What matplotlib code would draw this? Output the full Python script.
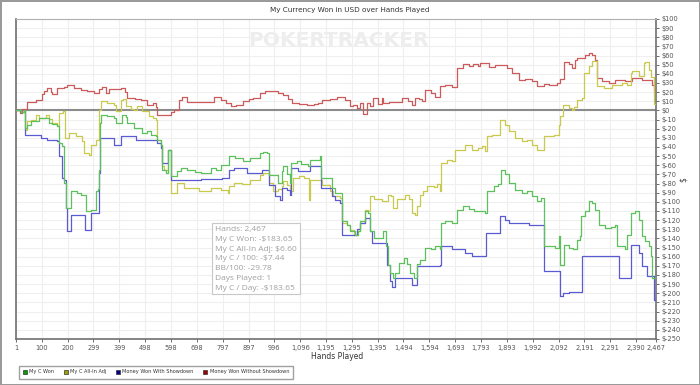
import matplotlib.pyplot as plt
from matplotlib.patches import Patch
from matplotlib.ticker import FuncFormatter

# breakpoints (hand number, value in USD)
red_hands = [1, 15, 25, 45, 77, 100, 109, 122, 135, 141, 160, 186, 199, 225, 250, 275, 302, 320, 334, 347, 360,
             405, 420, 430, 460, 482, 507, 530, 540, 546, 584, 600, 610, 629, 642, 661, 700, 738, 764, 790, 810,
             829, 850, 877, 900, 916, 942, 960, 980, 1010, 1031, 1050, 1064, 1090, 1122, 1150, 1166, 1179, 1210,
             1237, 1269, 1289, 1300, 1314, 1325, 1337, 1353, 1365, 1378, 1395, 1411, 1417, 1440, 1469, 1488, 1510,
             1527, 1539, 1555, 1565, 1578, 1600, 1616, 1635, 1655, 1681, 1700, 1725, 1745, 1760, 1783, 1790, 1822,
             1847, 1865, 1893, 1912, 1938, 1963, 1989, 2008, 2034, 2053, 2085, 2098, 2111, 2130, 2143, 2156, 2162,
             2182, 2195, 2208, 2221, 2233, 2240, 2259, 2285, 2310, 2349, 2375, 2400, 2413, 2439, 2451, 2461, 2467]
red_vals = [0, -3, 2, 8.8, 11.7, 18, 21, 24.5, 20, 18, 24, 26, 28, 25, 22.6, 21, 19, 23, 26, 19, 23,
            24.5, 20, 13.5, 12, 11.7, 6.2, 8, 4, -4.7, -4.7, -2, 0.8, 11.7, 14.6, 8.8, 9, 9.7, 14.6, 11.7, 8,
            5.1, 6, 9.8, 12, 13.5, 19, 21, 20.8, 19, 17.2, 12, 8, 7, 6.2, 7, 8, 11.7, 12.5,
            14.6, 11.7, 4.4, 6, 2.6, 8, -3.6, 8, 5, 13.5, 7, 13.5, 8, 9, 9.7, 13.5, 10,
            6.2, 13.5, 12, 9.8, 21.9, 19, 14.6, 27, 28, 26, 46.4, 51, 48.6, 51, 48.1, 51.5, 48,
            50, 50, 46.4, 40.9, 33.6, 34, 31.7, 26.3, 29, 28, 30, 34, 52.5, 51, 46.4, 55.5, 57.3,
            57.3, 61, 62.8, 61, 55.5, 35.4, 31.7, 29.9, 33.6, 31.7, 35.4, 36, 33.6, 33.6, 28, 22.6, 22]

yellow_hands = [1, 20, 32, 34, 45, 58, 77, 90, 115, 128, 141, 160, 167, 183, 189, 205, 231, 257, 263, 282, 289,
                308, 321, 330, 353, 379, 385, 407, 415, 424, 443, 456, 469, 488, 514, 530, 540, 546, 559, 565,
                572, 587, 597, 623, 649, 706, 752, 790, 816, 822, 841, 870, 903, 942, 954, 974, 993, 1012, 1025,
                1031, 1044, 1057, 1070, 1090, 1110, 1131, 1134, 1179, 1211, 1224, 1250, 1257, 1276, 1289, 1302,
                1315, 1327, 1346, 1359, 1366, 1380, 1411, 1436, 1445, 1455, 1469, 1501, 1515, 1527, 1540, 1546,
                1558, 1571, 1584, 1610, 1622, 1635, 1639, 1661, 1681, 1693, 1732, 1758, 1780, 1796, 1809, 1815,
                1835, 1867, 1886, 1899, 1925, 1951, 1970, 1989, 2008, 2034, 2073, 2092, 2098, 2107, 2130, 2143,
                2150, 2162, 2182, 2188, 2208, 2221, 2240, 2266, 2298, 2337, 2356, 2369, 2375, 2400, 2419, 2425,
                2439, 2446, 2458, 2460, 2467]
yellow_vals = [0, -2, 0, -21.2, -12, -10.5, -4.7, -8, -4.7, -9, -13.8, -17.5, -2.9, -1, -30.2, -24.8, -28.5, -33.9,
               -46.6, -48.5, -37.5, -32, 0.8, 9.8, 8, 6.2, -1, 11.7, 12.6, 4.4, 2, 0, 4.4, -1, -6.5, -8.3, -10,
               -32, -37.5, -61.2, -65, -43, -90.4, -79.4, -85, -88.6, -85, -87, -90.4, -83, -79.4, -80, -75.8,
               -70.3, -68.5, -79.4, -88.6, -86, -83, -77.6, -82, -88.6, -74, -72, -74, -97.7, -75.8, -81.3,
               -88.6, -94, -95.8, -123, -125, -130.5, -136, -132, -123, -108.6, -110, -94, -97, -99, -92, -94,
               -106.8, -97, -92, -97, -112.3, -114, -105, -92, -88.6, -83, -84, -81, -88.6, -57.5, -54, -55.8,
               -43, -37.5, -43, -41, -39.4, -44.9, -28.4, -26.6, -10.2, -15.6, -23, -30.2, -33.9, -32, -37.5,
               -43, -28.4, -26.6, -15.6, -6.5, 6.2, 2.6, 0.8, 4, 11.7, 13.5, 40.9, 48.1, 53.6, 26.3, 24.5, 28,
               30, 28, 40.9, 42.7, 37.2, 51.8, 52.5, 44.5, 37, 26, 6.6, 6.6]

green_hands = [1, 20, 32, 34, 45, 58, 90, 115, 128, 141, 160, 167, 179, 186, 192, 212, 235, 250, 270, 289, 308,
               316, 321, 325, 330, 353, 379, 385, 411, 424, 430, 456, 482, 488, 507, 520, 540, 546, 559, 565, 578,
               587, 597, 623, 636, 661, 690, 713, 752, 770, 790, 822, 845, 877, 903, 942, 954, 967, 974, 999,
               1012, 1025, 1031, 1044, 1057, 1060, 1083, 1100, 1128, 1134, 1173, 1175, 1211, 1218, 1231, 1257,
               1276, 1289, 1308, 1320, 1327, 1346, 1359, 1366, 1379, 1417, 1427, 1436, 1443, 1455, 1462, 1475,
               1495, 1508, 1520, 1533, 1546, 1558, 1578, 1600, 1616, 1635, 1638, 1655, 1681, 1700, 1725, 1745,
               1764, 1796, 1809, 1815, 1841, 1860, 1870, 1886, 1899, 1925, 1951, 1970, 1989, 2008, 2025, 2034,
               2079, 2092, 2098, 2111, 2130, 2149, 2162, 2175, 2178, 2195, 2208, 2221, 2233, 2246, 2272, 2295,
               2310, 2317, 2349, 2356, 2369, 2388, 2400, 2413, 2426, 2439, 2446, 2452, 2467]
green_vals = [0, -2, 0, -19.3, -15.6, -12, -8.3, -8.3, -14, -15, -17.5, -35.7, -39.4, -79.4, -106.8, -88.6, -90,
              -92.2, -110.5, -108.6, -88.6, -86, -65, -13.8, -4.7, -6, -8.3, -13.8, -4.7, -7, -13.8, -19.3, -19.3,
              -24.8, -22, -26.6, -28.4, -32, -37.5, -65, -68.5, -43, -72.2, -66.7, -63, -65, -67, -68.5, -63,
              -65, -59.4, -50.3, -52, -55.8, -52, -46.6, -45, -46.6, -70.3, -70.3, -79.4, -66.7, -61.2, -70,
              -79.4, -57.5, -55.8, -59, -61.2, -54, -50.3, -74, -74, -85, -90.4, -121.4, -125, -132.4, -136,
              -132, -121.4, -110.5, -112, -132.4, -139.6, -132, -148.8, -168.8, -178, -183, -178, -167, -161.5,
              -168, -178, -183, -168, -163.3, -150.6, -152, -148.8, -152, -123, -121.4, -123, -108.6, -105,
              -108, -110, -110, -112, -88.6, -83, -81, -65.6, -70, -79.4, -86.7, -90.4, -88.6, -94, -99.5, -96,
              -148.8, -150.6, -137.8, -168.8, -147, -150.6, -152, -141.5, -137.8, -116, -110.5, -99.5, -101,
              -108.6, -125, -128.6, -128, -125, -148.8, -152, -136, -112.3, -110.5, -119.6, -137.8, -143,
              -148.8, -159.7, -183.4, -183.65]

blue_hands = [1, 20, 32, 34, 90, 96, 122, 160, 167, 179, 186, 192, 199, 212, 263, 266, 291, 314, 321, 325, 379,
              407, 463, 546, 559, 565, 587, 597, 713, 796, 822, 841, 890, 948, 974, 999, 1019, 1025, 1044, 1057,
              1060, 1089, 1134, 1175, 1218, 1231, 1250, 1257, 1302, 1315, 1327, 1346, 1366, 1372, 1427, 1430,
              1443, 1449, 1462, 1527, 1546, 1635, 1639, 1681, 1732, 1758, 1812, 1867, 1886, 1899, 1976, 2034,
              2098, 2107, 2130, 2182, 2326, 2369, 2401, 2414, 2433, 2458, 2467]
blue_vals = [0, -2, 0, -26.6, -26.6, -30, -32, -33.9, -50.3, -74, -75.8, -106.8, -132.4, -114, -114, -130.5,
             -112.3, -112.3, -68.5, -30.2, -37.5, -28.4, -32, -35.7, -41, -57.5, -43, -75.8, -74.5, -74, -65,
             -63, -68.5, -65, -81.3, -94, -97.7, -85, -87, -92, -63, -66.7, -61.2, -85, -94, -97.7, -101, -136,
             -136, -130, -123, -117.7, -132.4, -145, -145, -168.8, -187, -192.6, -183, -190.8, -170.7, -168.8,
             -148.8, -152, -156, -159.7, -134, -116, -119.6, -123, -125, -176, -203.5, -200, -199, -159.7,
             -183.4, -147, -156, -170.7, -181.6, -207, -205.6]

x_ticks = [1, 100, 200, 299, 399, 498, 598, 698, 797, 897, 996, 1096, 1195, 1295, 1395, 1494, 1594, 1693,
           1793, 1893, 1992, 2092, 2191, 2291, 2390, 2467]
y_ticks = list(range(-250, 101, 10))

legend_labels = ['My C Won', 'My C All-In Adj', 'Money Won With Showdown', 'Money Won Without Showdown']
tooltip_lines = ['Hands: 2,467', 'My C Won: -$183.65', 'My C All-In Adj: $6.60', 'My C / 100: -$7.44',
                 'BB/100: -29.78', 'Days Played: 1', 'My C / Day: -$183.65']

fig = plt.figure(figsize=(7, 3.85), dpi=100)
fig.patch.set_edgecolor('#9a9a9a')
fig.patch.set_linewidth(2)
ax = fig.add_axes([16 / 700, 1 - 339 / 385, 640 / 700, 320 / 385])

ax.set_xlim(1, 2467)
ax.set_ylim(-250, 100)
ax.set_xticks(x_ticks)
ax.set_yticks(y_ticks)
ax.grid(True, color='#efefef', lw=0.8)
ax.set_axisbelow(True)

ax.text(0.503, 0.934, 'POKERTRACKER', transform=ax.transAxes, fontsize=14.5, fontweight='bold',
        color='#ededed', ha='center', va='center', zorder=0)

ax.axhline(0, color='#8c8c8c', lw=1.5, zorder=1)

ax.plot(red_hands, red_vals, drawstyle='steps-post', color='#cc5a5a', lw=0.9, zorder=3)
ax.plot(yellow_hands, yellow_vals, drawstyle='steps-post', color='#c9c94d', lw=0.9, zorder=3)
ax.plot(blue_hands, blue_vals, drawstyle='steps-post', color='#5a5ad2', lw=0.9, zorder=3)
ax.plot(green_hands, green_vals, drawstyle='steps-post', color='#5cc05c', lw=0.9, zorder=4)

ax.yaxis.tick_right()
ax.yaxis.set_major_formatter(FuncFormatter(lambda v, p: '$%d' % v))
ax.xaxis.set_major_formatter(FuncFormatter(lambda v, p: '{:,}'.format(int(v))))
ax.tick_params(axis='both', labelsize=4.8, colors='#555555', length=2.5, width=0.6, pad=1.2)
ax.tick_params(axis='x', pad=2)
ax.spines['top'].set_color('#b0b0b0')
for side in ['left', 'bottom', 'right']:
    ax.spines[side].set_color('#707070')
    ax.spines[side].set_linewidth(1.2)

fig.text(683 / 700, 1 - 180 / 385, '$', fontsize=5.5, color='#444444', rotation=90, ha='center', va='center')
ax.set_xlabel('Hands Played', fontsize=5.5, color='#333333', labelpad=1)
ax.xaxis.set_label_coords(0.502, -0.042)
fig.text(0.5, 1 - 10 / 385, 'My Currency Won in USD over Hands Played', fontsize=5.2, color='#333333',
         ha='center', va='center')

ax.text(0.311, 0.353, '\n'.join(tooltip_lines), transform=ax.transAxes, fontsize=6, color='#a0a0a0',
        va='top', ha='left', linespacing=1.55, family='Open Sans', zorder=6,
        bbox=dict(boxstyle='square,pad=0.35', fc='white', ec='#c8c8c8', lw=0.8))

handles = [Patch(facecolor=c, edgecolor='#333333', lw=0.5) for c in ['#00a000', '#a0a000', '#000090', '#a00000']]
fig.legend(handles, legend_labels, loc='lower left', bbox_to_anchor=(16 / 700, 4 / 385), ncol=4,
           fontsize=3.6, frameon=True, fancybox=False, edgecolor='#888888', handlelength=0.8,
           handleheight=0.8, handletextpad=0.5, columnspacing=1.9, borderpad=0.8, labelcolor='#333333')

fig.savefig('out.png', dpi=100)
